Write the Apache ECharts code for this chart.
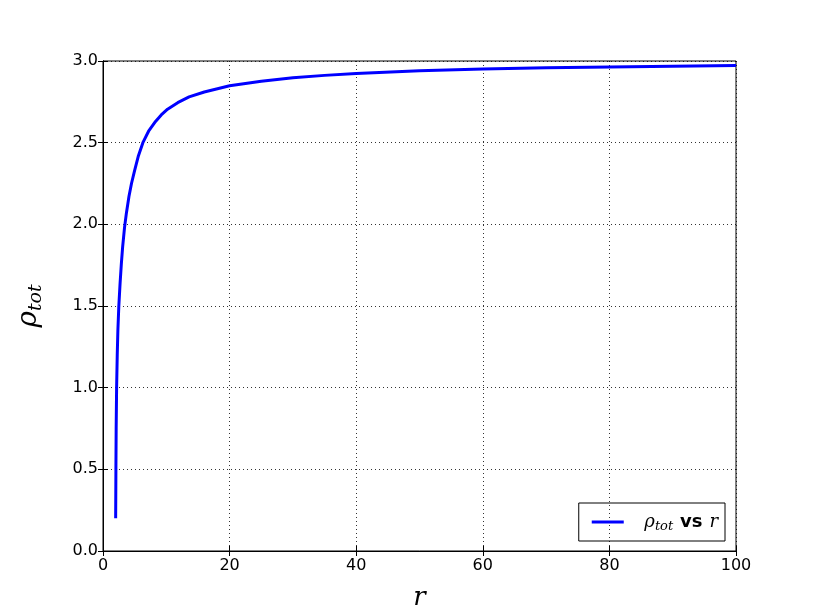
<!DOCTYPE html>
<html>
<head>
<meta charset="utf-8">
<script src="https://cdn.jsdelivr.net/npm/echarts@6/dist/echarts.min.js"></script>
<style>
  html, body { margin: 0; padding: 0; background: #fff; }
  #chart { width: 817px; height: 613px; }
</style>
</head>
<body>
<div id="chart"></div>
<script>
// values
var rValues = [2.0, 2.02, 2.04, 2.08, 2.15, 2.25, 2.35, 2.5, 2.7, 2.9, 3.1, 3.4, 3.7, 4.1, 4.5, 5.0, 5.6, 6.3, 7.2, 8.3, 9.2, 10.2, 11.8, 13.6, 16, 20, 25, 30, 35, 40, 50, 60, 70, 80, 90, 100];
var rhoValues = [0.2, 0.35, 0.5, 0.75, 1.0, 1.2, 1.35, 1.5, 1.64, 1.76, 1.86, 1.98, 2.07, 2.17, 2.25, 2.33, 2.42, 2.5, 2.57, 2.63, 2.67, 2.705, 2.745, 2.78, 2.81, 2.848, 2.876, 2.897, 2.912, 2.923, 2.94, 2.951, 2.958, 2.964, 2.968, 2.972];
var xTicks = [0, 20, 40, 60, 80, 100];
var yTicks = ['0.0', '0.5', '1.0', '1.5', '2.0', '2.5', '3.0'];

var points = rValues.map(function(r, i){ return [r, rhoValues[i]]; });

var chart = echarts.init(document.getElementById('chart'));
var tickFont = { color: '#000', fontSize: 16, fontFamily: 'DejaVu Sans' };
var gridLine = { show: true, lineStyle: { color: '#000', width: 1, type: [1, 3], opacity: 0.8 } };

var option = {
  backgroundColor: '#fff',
  animation: false,
  grid: { left: 103, right: 81, top: 61, bottom: 62, show: true, borderColor: '#000', borderWidth: 1, outerBoundsMode: 'none', containLabel: false },
  legend: {
    right: 92, bottom: 72,
    orient: 'horizontal',
    padding: [8, 7, 8, 13],
    borderColor: '#000', borderWidth: 1,
    borderRadius: 0,
    itemWidth: 32, itemHeight: 3,
    icon: 'rect',
    data: ['rho'],
    formatter: function(){ return '    {a|ρ}{b|tot} {c|vs} {a|r}'; },
    textStyle: {
      color: '#000',
      fontSize: 14,
      rich: {
        a: { fontFamily: 'DejaVu Serif', fontStyle: 'italic', fontSize: 18, color: '#000', lineHeight: 22 },
        b: { fontFamily: 'DejaVu Serif', fontStyle: 'italic', fontSize: 13, color: '#000', lineHeight: 22, padding: [9, 0, 0, 0] },
        c: { fontFamily: 'DejaVu Sans', fontWeight: 'bold', fontSize: 18, color: '#000', lineHeight: 22, padding: [0, 3, 0, 3] }
      }
    }
  },
  xAxis: [{
    type: 'value', min: 0, max: 100, interval: 20,
    name: 'r', nameLocation: 'middle', nameGap: 34,
    nameTextStyle: { fontFamily: 'DejaVu Serif', fontStyle: 'italic', fontSize: 26, color: '#000' },
    axisLine: { show: true, lineStyle: { color: '#000', width: 1 } },
    axisTick: { show: true, inside: true, length: 5, lineStyle: { color: '#000' } },
    axisLabel: Object.assign({ margin: 7, formatter: function(v){ return xTicks.indexOf(v) >= 0 ? String(v) : ''; } }, tickFont),
    splitLine: gridLine
  }, {
    type: 'value', min: 0, max: 100, interval: 20, position: 'top',
    axisLine: { show: true, lineStyle: { color: '#000', width: 1 } },
    axisTick: { show: true, inside: true, length: 5, lineStyle: { color: '#000' } },
    axisLabel: { show: false }, splitLine: { show: false }
  }],
  yAxis: [{
    type: 'value', min: 0, max: 3, interval: 0.5,
    name: '{a|ρ}{b|tot}', nameLocation: 'middle', nameGap: 57, nameRotate: 90,
    nameTextStyle: {
      color: '#000',
      rich: {
        a: { fontFamily: 'DejaVu Serif', fontStyle: 'italic', fontSize: 28, color: '#000', lineHeight: 34 },
        b: { fontFamily: 'DejaVu Serif', fontStyle: 'italic', fontSize: 19, color: '#000', lineHeight: 34, padding: [14, 0, 0, 0] }
      }
    },
    axisLine: { show: true, lineStyle: { color: '#000', width: 1 } },
    axisTick: { show: true, inside: true, length: 5, lineStyle: { color: '#000' } },
    axisLabel: Object.assign({ margin: 5, formatter: function(v){ return yTicks[Math.round(v * 2)]; } }, tickFont),
    splitLine: gridLine
  }, {
    type: 'value', min: 0, max: 3, interval: 0.5, position: 'right',
    axisLine: { show: true, lineStyle: { color: '#000', width: 1 } },
    axisTick: { show: true, inside: true, length: 5, lineStyle: { color: '#000' } },
    axisLabel: { show: false }, splitLine: { show: false }
  }],
  series: [{
    name: 'rho',
    type: 'line',
    data: points,
    showSymbol: false,
    symbol: 'none',
    smooth: false,
    lineStyle: { color: '#0000ff', width: 3 },
    itemStyle: { color: '#0000ff' }
  }]
};
chart.setOption(option);
</script>
</body>
</html>
